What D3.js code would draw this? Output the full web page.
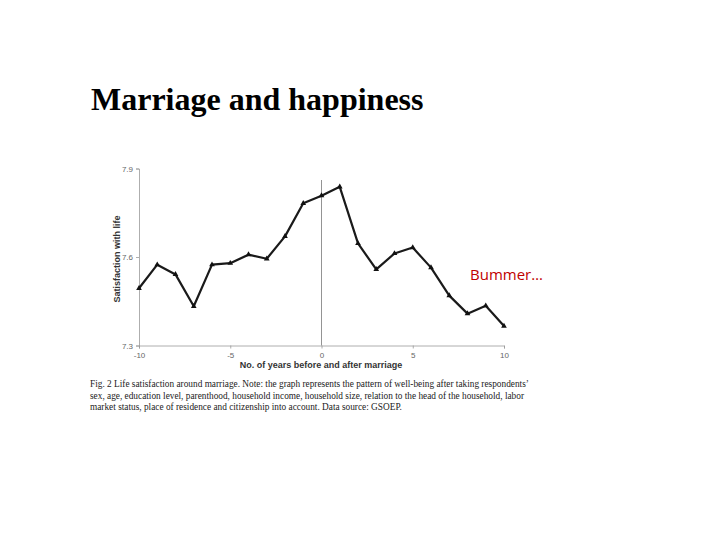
<!DOCTYPE html>
<html>
<head>
<meta charset="utf-8">
<script src="https://cdn.jsdelivr.net/npm/d3@7"></script>
<style>
  body { margin: 0; background: #fff; }
</style>
</head>
<body>
<script>
// years relative to marriage and life satisfaction
const years = [-10, -9, -8, -7, -6, -5, -4, -3, -2, -1, 0, 1, 2, 3, 4, 5, 6, 7, 8, 9, 10];
const satisfaction = [7.494, 7.574, 7.541, 7.433, 7.574, 7.579, 7.608, 7.594, 7.670, 7.782, 7.808, 7.838, 7.646, 7.558, 7.612, 7.632, 7.564, 7.469, 7.408, 7.435, 7.366];
const xTicks = [-10, -5, 0, 5, 10];
const yTicks = [7.3, 7.6, 7.9];
const captionLines = [
  "Fig. 2  Life satisfaction around marriage. Note: the graph represents the pattern of well-being after taking respondents’",
  "sex, age, education level, parenthood, household income, household size, relation to the head of the household, labor",
  "market status, place of residence and citizenship into account. Data source: GSOEP."
];

const svg = d3.select("body").append("svg")
  .attr("width", 720).attr("height", 540);

svg.append("text")
  .attr("x", 91).attr("y", 110)
  .attr("font-family", "Liberation Serif, Times New Roman, serif")
  .attr("font-weight", "bold")
  .attr("font-size", 32)
  .text("Marriage and happiness");

const x = d3.scaleLinear().domain([-10, 10]).range([139, 504]);
const y = d3.scaleLinear().domain([7.3, 7.9]).range([345.5, 168.5]);

const g = svg.append("g");
const grey = "#999";

// axes
const xAxis = g.append("g")
  .attr("transform", "translate(0,345.5)")
  .call(d3.axisBottom(x).tickValues(xTicks).tickSize(3).tickFormat(d => d < 0 ? "-" + Math.abs(d) : d));
const yAxis = g.append("g")
  .attr("transform", "translate(139,0)")
  .call(d3.axisLeft(y).tickValues(yTicks).tickSize(3).tickFormat(d3.format(".1f")));

[xAxis, yAxis].forEach(a => {
  a.select(".domain").attr("stroke", grey).attr("stroke-width", 0.8);
  a.selectAll(".tick line").attr("stroke", grey).attr("stroke-width", 0.8);
  a.selectAll(".tick text")
    .attr("fill", "#666")
    .attr("font-family", "Liberation Sans, Arial, sans-serif")
    .attr("font-size", 8);
});
xAxis.selectAll(".tick text").attr("dy", "0.85em");

// reference line at marriage
g.append("line")
  .attr("x1", x(0)).attr("x2", x(0))
  .attr("y1", 180).attr("y2", 345.5)
  .attr("stroke", "#888").attr("stroke-width", 0.9);

const pts = years.map((yr, i) => ({ yr, v: satisfaction[i] }));

g.append("path")
  .datum(pts)
  .attr("fill", "none")
  .attr("stroke", "#1a1a1a")
  .attr("stroke-width", 2.2)
  .attr("stroke-linejoin", "round")
  .attr("d", d3.line().x(d => x(d.yr)).y(d => y(d.v)));

g.selectAll(".marker")
  .data(pts)
  .join("path")
  .attr("class", "marker")
  .attr("d", d3.symbol(d3.symbolTriangle, 14))
  .attr("transform", d => `translate(${x(d.yr)},${y(d.v)})`)
  .attr("fill", "#111");

// axis titles
g.append("text")
  .attr("transform", "translate(120,259) rotate(-90)")
  .attr("text-anchor", "middle")
  .attr("font-family", "Liberation Sans, Arial, sans-serif")
  .attr("font-weight", "bold")
  .attr("font-size", 9)
  .attr("fill", "#333")
  .text("Satisfaction with life");

g.append("text")
  .attr("x", 321).attr("y", 368)
  .attr("text-anchor", "middle")
  .attr("font-family", "Liberation Sans, Arial, sans-serif")
  .attr("font-weight", "bold")
  .attr("font-size", 9)
  .attr("fill", "#333")
  .text("No. of years before and after marriage");

// caption
svg.append("g").selectAll("text")
  .data(captionLines)
  .join("text")
  .attr("x", 90)
  .attr("y", (d, i) => 387 + i * 11.5)
  .attr("font-family", "Liberation Serif, Times New Roman, serif")
  .attr("font-size", 9.3)
  .attr("fill", "#222")
  .text(d => d);

svg.append("text")
  .attr("x", 470).attr("y", 280)
  .attr("font-family", "Open Sans, Liberation Sans, sans-serif")
  .attr("font-size", 15)
  .attr("fill", "#c00000")
  .text("Bummer…");
</script>
</body>
</html>
